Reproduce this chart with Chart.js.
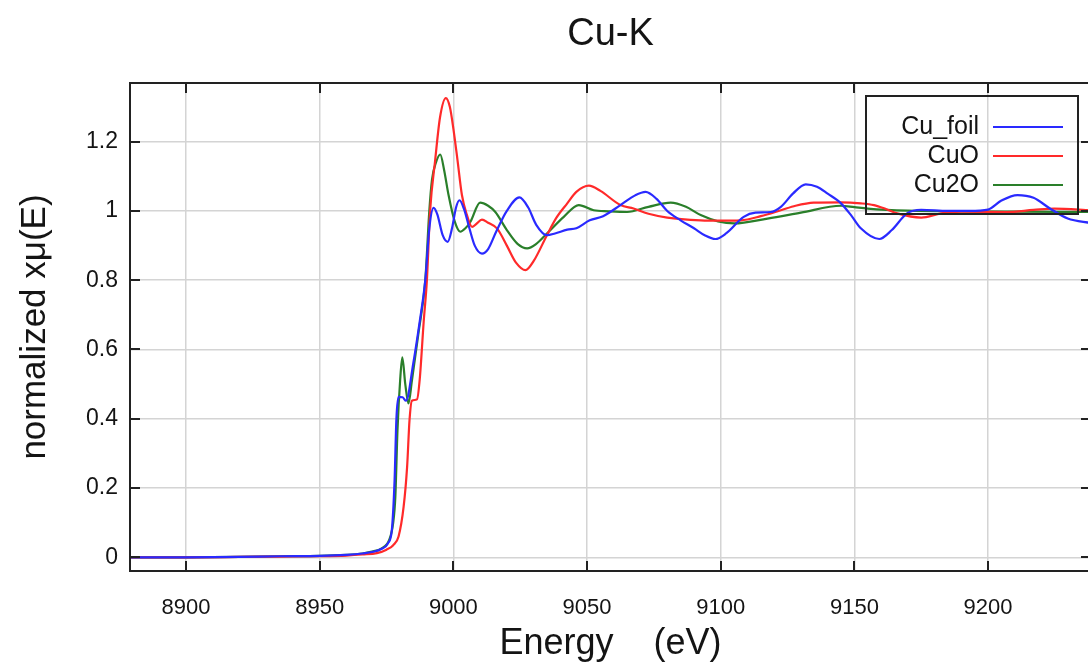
<!DOCTYPE html>
<html><head><meta charset="utf-8">
<script src="https://cdn.jsdelivr.net/npm/chart.js@4.4.1/dist/chart.umd.min.js"></script>
<style>html,body{margin:0;padding:0;overflow:hidden;background:#fff}#wrap{width:1092px;height:664px;position:relative}</style>
</head><body><div id="wrap"><canvas id="c"></canvas></div>
<script>
const chartTitle = 'Cu-K';
const xTitle = 'Energy    (eV)';
const yTitle = 'normalized xμ(E)';
const seriesNames = ['Cu_foil', 'CuO', 'Cu2O'];
const seriesColors = ['#2a2aff', '#ff2a2a', '#2a7f2a'];
const xTicks = [8900, 8950, 9000, 9050, 9100, 9150, 9200];
const yTicks = [0, 0.2, 0.4, 0.6, 0.8, 1, 1.2];
const xRange = [8879.05, 9238.5];
const yRange = [-0.0396, 1.3695];

const foilE = [8879,8900,8920,8935,8950,8960,8966,8970,8973,8975.5,8977,8978,8978.7,8979.5,8981,8982.3,8985,8987.4,8989.5,8991,8992.6,8994,8996,8997.9,8999.5,9001,9002.3,9004,9006,9008,9010.7,9013,9016,9020,9024.7,9028,9031,9035,9038,9042.6,9046,9051,9056,9062.5,9068,9071.9,9076,9080,9085,9090,9094,9098,9102,9108.6,9113,9118.7,9122.5,9127,9131.8,9136,9140,9145,9149,9152.4,9159.3,9164,9169.7,9175,9185,9193,9200,9205,9211,9217,9223,9229.8,9238.5];
const foilMu = [0,0,0.001,0.003,0.004,0.007,0.011,0.016,0.024,0.04,0.08,0.22,0.40,0.463,0.462,0.452,0.56,0.68,0.80,0.95,1.009,0.99,0.93,0.911,0.95,1.01,1.031,1.005,0.95,0.90,0.877,0.89,0.94,1.00,1.039,1.01,0.96,0.930,0.935,0.946,0.950,0.973,0.985,1.017,1.045,1.055,1.035,1.000,0.973,0.950,0.930,0.919,0.935,0.983,0.995,0.997,1.012,1.050,1.077,1.070,1.050,1.022,0.985,0.950,0.919,0.945,0.993,1.003,1.000,1.000,1.004,1.030,1.046,1.038,1.008,0.978,0.965];

const cuoE = [8879,8900,8920,8935,8950,8960,8966,8971.4,8975,8977.5,8979.5,8981.4,8982.7,8983.6,8984.5,8986.4,8987.4,8988.9,8990.1,8991.3,8993.2,8995,8997.2,8998.7,9000,9001.5,9003.2,9005,9007,9008.5,9010.7,9013,9016.4,9020,9023.5,9027,9030,9035,9038.5,9042.6,9046,9050.7,9055,9062.5,9067.4,9073,9080,9092.5,9100,9107.5,9115,9122.5,9128,9134.8,9145,9152.4,9157.3,9162,9166,9175,9182.4,9190,9207,9217,9224.7,9238.5];
const cuoMu = [0,0,0.001,0.002,0.003,0.005,0.008,0.012,0.022,0.035,0.06,0.146,0.261,0.396,0.452,0.456,0.512,0.68,0.80,1.0,1.147,1.27,1.326,1.30,1.238,1.15,1.046,0.99,0.954,0.962,0.975,0.966,0.949,0.90,0.85,0.829,0.855,0.930,0.98,1.022,1.055,1.073,1.058,1.017,1.007,0.992,0.981,0.973,0.972,0.973,0.985,1.002,1.015,1.024,1.025,1.022,1.017,1.005,0.993,0.981,0.993,0.998,0.997,1.003,1.007,1.002];

const cu2oE = [8879,8900,8920,8935,8950,8960,8966,8970,8973,8976,8977.5,8978.3,8979.1,8980.1,8980.9,8982,8983.2,8984.5,8987,8989.5,8991,8992,8993.5,8995.1,8996.5,8998.2,9000.5,9002.6,9004.5,9006.4,9010,9013,9015.7,9020,9024,9027.6,9031,9035,9041.3,9046.9,9052.5,9058,9065,9073,9081.3,9087,9092.5,9099,9105,9117.5,9130,9145,9150,9155,9170,9190,9210,9238.5];
const cu2oMu = [0,0,0.001,0.003,0.004,0.007,0.011,0.017,0.025,0.05,0.10,0.175,0.367,0.512,0.577,0.501,0.444,0.51,0.65,0.80,1.0,1.09,1.14,1.163,1.12,1.046,0.97,0.940,0.950,0.969,1.024,1.015,0.997,0.945,0.905,0.892,0.905,0.935,0.983,1.017,1.002,0.999,0.997,1.012,1.024,1.012,0.988,0.970,0.964,0.978,0.995,1.015,1.011,1.007,1.001,0.999,0.998,0.997];

const seriesE = [foilE, cuoE, cu2oE];
const seriesMu = [foilMu, cuoMu, cu2oMu];

const FONT = "'Liberation Sans', Arial, sans-serif";
const INK = '#141414';

const framePlugin = {
  id: 'frame',
  afterDatasetsDraw(chart) {
    const {ctx, chartArea: a, scales} = chart;
    ctx.save();
    ctx.strokeStyle = '#222';
    ctx.lineWidth = 2;
    ctx.beginPath();
    xTicks.forEach(v => {
      const px = Math.round(scales.x.getPixelForValue(v));
      ctx.moveTo(px, a.bottom); ctx.lineTo(px, a.bottom - 10);
      ctx.moveTo(px, a.top); ctx.lineTo(px, a.top + 10);
    });
    yTicks.forEach(v => {
      const py = Math.round(scales.y.getPixelForValue(v));
      ctx.moveTo(a.left, py); ctx.lineTo(a.left + 10, py);
      ctx.moveTo(a.right, py); ctx.lineTo(a.right - 10, py);
    });
    ctx.stroke();
    ctx.strokeRect(a.left, a.top, a.right - a.left, a.bottom - a.top);
    ctx.restore();
  },
  afterDraw(chart) {
    const {ctx, chartArea: a} = chart;
    ctx.save();
    ctx.fillStyle = INK;
    ctx.font = '38px ' + FONT;
    ctx.textAlign = 'center';
    ctx.textBaseline = 'middle';
    ctx.fillText(chartTitle, (a.left + a.right) / 2, 35);
    // legend
    ctx.strokeStyle = '#222';
    ctx.lineWidth = 2;
    ctx.strokeRect(866, 96, 212, 118);
    ctx.font = '25px ' + FONT;
    ctx.textAlign = 'right';
    seriesNames.forEach((n, i) => {
      const y = 127 + i * 29;
      ctx.fillStyle = INK;
      ctx.fillText(n, 979, y);
      ctx.strokeStyle = seriesColors[i];
      ctx.beginPath();
      ctx.moveTo(993, y); ctx.lineTo(1063, y);
      ctx.stroke();
    });
    ctx.restore();
  }
};

const datasets = seriesNames.map((n, i) => ({
  label: n,
  data: seriesE[i].map((x, j) => ({x, y: seriesMu[i][j]})),
  borderColor: seriesColors[i],
  borderWidth: 2.2,
  pointRadius: 0,
  showLine: true,
  fill: false,
  cubicInterpolationMode: 'monotone'
}));

new Chart(document.getElementById('c'), {
  type: 'scatter',
  data: {datasets},
  options: {
    responsive: true,
    maintainAspectRatio: false,
    animation: false,
    layout: {padding: {top: 83, right: 1, left: 0, bottom: 0}},
    plugins: {legend: {display: false}, title: {display: false}, tooltip: {enabled: false}},
    scales: {
      x: {
        type: 'linear', min: xRange[0], max: xRange[1],
        afterFit(s) { s.height = 93; },
        afterBuildTicks(s) { s.ticks = xTicks.map(v => ({value: v})); },
        grid: {color: '#d4d4d4', lineWidth: 1.5, drawTicks: false},
        border: {display: false},
        ticks: {padding: 24, color: INK, font: {family: FONT, size: 22}, callback: v => String(v), maxRotation: 0, autoSkip: false},
        title: {display: true, text: xTitle, color: INK, font: {family: FONT, size: 36}, padding: {top: 0, bottom: -2}}
      },
      y: {
        type: 'linear', min: yRange[0], max: yRange[1],
        afterFit(s) { s.width = 130; },
        afterBuildTicks(s) { s.ticks = yTicks.map(v => ({value: v})); },
        grid: {color: '#d4d4d4', lineWidth: 1.5, drawTicks: false},
        border: {display: false},
        ticks: {padding: 12, color: INK, font: {family: FONT, size: 23}, callback: v => String(Math.round(v * 10) / 10), autoSkip: false},
        title: {display: true, text: yTitle, color: INK, font: {family: FONT, size: 35}, padding: {top: 14, bottom: 0}}
      }
    }
  },
  plugins: [framePlugin]
});
</script>
</body></html>
